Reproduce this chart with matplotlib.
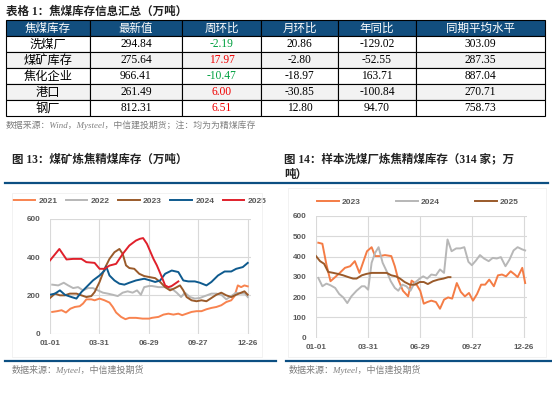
import matplotlib.pyplot as plt
from matplotlib.patches import Rectangle
from matplotlib.lines import Line2D

plt.rcParams['font.family'] = ['Liberation Serif', 'Noto Sans CJK SC']

# ---------------- table data ----------------
table_cols = ['焦煤库存', '最新值', '周环比', '月环比', '年同比', '同期平均水平']
table_rows = ['洗煤厂', '煤矿库存', '焦化企业', '港口', '钢厂']
latest = [294.84, 275.64, 966.41, 261.49, 812.31]
wow = [-2.19, 17.97, -10.47, 6.00, 6.51]
mom = [20.86, -2.80, -18.97, -30.85, 12.80]
yoy = [-129.02, -52.55, 163.71, -100.84, 94.70]
avg = [303.09, 287.35, 887.04, 270.71, 758.73]

# ---------------- chart 13: coal mine inventory (day of year, 万吨) ----------------
tick_days = [0, 89, 179, 269, 359]
tick_labels = ['01-01', '03-31', '06-29', '09-27', '12-26']

d2021 = [4, 13, 21, 29, 37, 45, 54, 60, 66, 75, 81, 90, 99, 108, 114, 120, 129, 137, 144, 156,
         168, 180, 185, 197, 206, 215, 224, 233, 240, 248, 257, 266, 275, 284, 293, 302, 311,
         320, 329, 335, 341, 347, 353, 359]
v2021 = [113, 117, 122, 110, 130, 139, 143, 157, 179, 179, 174, 183, 174, 162, 139, 110, 87, 75,
         82, 82, 78, 78, 82, 87, 99, 104, 99, 104, 96, 104, 113, 117, 117, 127, 134, 139, 148,
         165, 174, 196, 252, 243, 252, 247]

d2022 = [4, 15, 25, 33, 42, 51, 60, 69, 78, 87, 96, 105, 114, 123, 132, 141, 150, 158, 165, 171,
         180, 185, 197, 209, 221, 230, 238, 245, 254, 263, 272, 281, 293, 302, 311, 320, 329,
         338, 347, 354, 359]
v2022 = [256, 252, 266, 252, 238, 243, 226, 238, 238, 226, 214, 209, 203, 196, 214, 221, 214, 226,
         203, 243, 249, 249, 243, 243, 235, 214, 191, 214, 191, 183, 186, 196, 209, 209, 203,
         179, 196, 214, 209, 209, 191]

d2023 = [0, 9, 18, 27, 36, 48, 57, 66, 75, 81, 90, 99, 108, 117, 126, 132, 138, 144, 153, 162,
         171, 180, 191, 200, 209, 218, 227, 236, 242, 248, 257, 266, 275, 284, 293, 302, 311,
         320, 329, 338, 347, 353, 359]
v2023 = [186, 209, 200, 200, 209, 209, 200, 191, 196, 217, 270, 339, 391, 426, 443, 417, 357, 343,
         339, 313, 301, 296, 290, 270, 243, 226, 238, 252, 226, 191, 174, 169, 174, 169, 186,
         203, 214, 200, 191, 203, 214, 221, 203]

d2024 = [0, 9, 18, 27, 39, 48, 57, 66, 78, 90, 99, 102, 108, 117, 126, 135, 144, 156, 171, 182,
         191, 200, 209, 221, 233, 242, 251, 263, 272, 284, 293, 305, 317, 329, 338, 350, 359]
v2024 = [203, 209, 226, 203, 191, 183, 217, 243, 278, 304, 330, 351, 304, 278, 261, 256, 266, 278,
         287, 278, 270, 278, 313, 330, 322, 278, 273, 273, 266, 252, 270, 304, 325, 325, 339,
         348, 370]

d2025 = [0, 17, 30, 42, 57, 66, 81, 90, 99, 108, 120, 132, 144, 156, 163, 169, 176, 182, 188,
         194, 203, 209, 215, 221, 227, 233]
v2025 = [383, 443, 388, 391, 391, 374, 370, 339, 339, 356, 365, 417, 461, 487, 496, 500, 470, 430,
         390, 357, 296, 252, 243, 249, 261, 273]

# ---------------- chart 14: 314 washing plants ----------------
w2023_d = [4, 11, 18, 25, 33, 41, 50, 59, 67, 75, 82, 88, 96, 102, 110, 119, 130, 136, 142, 150,
           159, 165, 173, 180, 186, 192, 199, 207, 214, 221, 228, 235, 243, 250, 257, 264, 271,
           278, 285, 292, 299, 307, 314, 321, 328, 336, 343, 348, 356, 361]
w2023_v = [468, 463, 360, 278, 298, 319, 344, 352, 377, 319, 377, 426, 446, 402, 402, 407, 402,
           352, 286, 231, 203, 281, 264, 230, 167, 175, 182, 175, 142, 187, 198, 192, 269, 225,
           203, 220, 182, 215, 261, 261, 286, 253, 307, 311, 302, 327, 311, 298, 344, 269]

w2024_d = [4, 11, 18, 25, 33, 40, 47, 54, 61, 70, 79, 84, 90, 96, 102, 108, 115, 122, 129, 136,
           142, 149, 156, 163, 170, 179, 185, 192, 199, 207, 214, 221, 227, 234, 242, 249, 256,
           263, 269, 276, 283, 290, 298, 305, 312, 319, 327, 334, 341, 348, 356, 361]
w2024_v = [294, 253, 266, 258, 245, 215, 198, 170, 203, 231, 253, 253, 236, 369, 418, 446, 369,
           327, 278, 245, 231, 261, 253, 231, 269, 291, 302, 291, 311, 307, 336, 319, 484, 426,
           440, 440, 446, 374, 357, 380, 407, 390, 377, 393, 390, 397, 352, 385, 430, 446, 435,
           430]

w2025_d = [0, 7, 14, 21, 30, 38, 47, 56, 64, 70, 79, 87, 96, 104, 113, 122, 130, 138, 145, 153,
           162, 171, 179, 186, 193, 202, 211, 220, 228, 232]
w2025_v = [402, 377, 364, 324, 319, 314, 307, 298, 291, 291, 307, 314, 319, 319, 319, 319, 307,
           302, 291, 274, 261, 261, 274, 274, 264, 278, 286, 291, 298, 298]

W, H = 552, 393
fig = plt.figure(figsize=(W / 100, H / 100), dpi=100)

HEAD_BLUE = '#124E7E'
LINE_BLUE = '#0C4F82'
TICK_GRAY = '#595959'
GRID = '#D9D9D9'

def fx(px):
    return px / W

def fy(py):
    return 1 - py / H

# ---------------- table ----------------
fig.text(fx(6), fy(12), '表格 1：焦煤库存信息汇总（万吨）', fontsize=8.3, fontweight='bold',
         va='center', ha='left', color='#222222')

cell_text = []
for i in range(len(table_rows)):
    cell_text.append([table_rows[i], f'{latest[i]:.2f}', f'{wow[i]:.2f}', f'{mom[i]:.2f}',
                      f'{yoy[i]:.2f}', f'{avg[i]:.2f}'])

tax = fig.add_axes([fx(6), fy(116), fx(539), 95.5 / H])
tax.axis('off')
col_w = [84, 92, 79, 77, 78, 129]
tbl = tax.table(cellText=cell_text, colLabels=table_cols, colWidths=[c / sum(col_w) for c in col_w],
                cellLoc='center', bbox=[0, 0, 1, 1])
tbl.auto_set_font_size(False)
for (r, c), cell in tbl.get_celld().items():
    cell.set_linewidth(0.8)
    cell.set_edgecolor('black')
    txt = cell.get_text()
    txt.set_fontsize(8.3)
    if r == 0:
        cell.set_facecolor(HEAD_BLUE)
        txt.set_color('white')
        txt.set_fontfamily(['Noto Sans CJK SC'])
    else:
        cell.set_facecolor('#F2F2F2' if r % 2 == 0 else 'white')
        if c == 0:
            txt.set_fontfamily(['Noto Sans CJK SC'])
            txt.set_fontsize(8.8)
        if c == 2:
            txt.set_color('#00A040' if wow[r - 1] < 0 else '#F00000')

fig.text(fx(6), fy(125), '数据来源：Wind，Mysteel，中信建投期货；注：均为为精煤库存', fontsize=6.4,
         style='italic', color='#7F7F7F', va='center', ha='left')

# ---------------- titles and rules ----------------
fig.text(fx(12), fy(160), '图 13：煤矿炼焦精煤库存（万吨）', fontsize=8.3, fontweight='bold',
         va='center', ha='left', color='#222222')
fig.text(fx(284), fy(160), '图 14：样本洗煤厂炼焦精煤库存（314 家；万', fontsize=8.3,
         fontweight='bold', va='center', ha='left', color='#222222')
fig.text(fx(284), fy(175), '吨）', fontsize=8.3, fontweight='bold', va='center', ha='left',
         color='#222222')

fig.add_artist(Line2D([fx(5), fx(548)], [fy(183), fy(183)], color=LINE_BLUE, lw=1.6))
fig.add_artist(Line2D([fx(5), fx(276)], [fy(361), fy(361)], color=LINE_BLUE, lw=1.6))
fig.add_artist(Line2D([fx(286), fx(552)], [fy(361), fy(361)], color=LINE_BLUE, lw=1.6))

fig.add_artist(Rectangle((fx(12), fy(357)), fx(250), 164 / H, facecolor='none',
                         edgecolor='#F0F0F0', lw=0.6))
fig.add_artist(Rectangle((fx(288), fy(357)), fx(258), 169 / H, facecolor='none',
                         edgecolor='#F0F0F0', lw=0.6))

fig.text(fx(12), fy(370), '数据来源：Myteel，中信建投期货', fontsize=6.5, style='italic',
         color='#7F7F7F', va='center', ha='left')
fig.text(fx(289), fy(370), '数据来源：Myteel，中信建投期货', fontsize=6.5, style='italic',
         color='#7F7F7F', va='center', ha='left')

def style_axes(ax, yticks):
    ax.set_xlim(0, 364)
    ax.set_ylim(0, 600)
    ax.set_xticks(tick_days)
    ax.set_xticklabels(tick_labels)
    ax.set_yticks(yticks)
    ax.grid(True, color=GRID, lw=0.8)
    ax.set_axisbelow(True)
    for s in ax.spines.values():
        s.set_visible(False)
    ax.tick_params(length=0, labelsize=5.8, labelcolor=TICK_GRAY)
    ax.tick_params(axis='y', pad=7)
    ax.tick_params(axis='x', pad=5)
    for lab in ax.get_xticklabels() + ax.get_yticklabels():
        lab.set_fontfamily(['Liberation Sans'])
        lab.set_fontweight('bold')

# ---------------- chart 13 ----------------
ax1 = fig.add_axes([fx(50), fy(333.5), fx(200.5), 114.5 / H])
series1 = [(d2021, v2021, '2021', '#F8834F'), (d2022, v2022, '2022', '#B7B7B7'),
           (d2023, v2023, '2023', '#9A5A2A'), (d2024, v2024, '2024', '#0E5A8E'),
           (d2025, v2025, '2025', '#E0202B')]
for d, v, lab, col in series1:
    ax1.plot(d, v, color=col, lw=1.4, label=lab)
style_axes(ax1, [0, 200, 400, 600])
leg1 = ax1.legend(loc='center', bbox_to_anchor=(fx(140), fy(201)), bbox_transform=fig.transFigure,
                  ncol=5, frameon=False, handlelength=2.6, handletextpad=0.4, columnspacing=1.0,
                  prop={'family': 'Liberation Sans', 'size': 6, 'weight': 'bold'})
for t in leg1.get_texts():
    t.set_color(TICK_GRAY)

# ---------------- chart 14 ----------------
ax2 = fig.add_axes([fx(316), fy(337.5), fx(210.9), 121.5 / H])
series2 = [(w2023_d, w2023_v, '2023', '#F47C45'), (w2024_d, w2024_v, '2024', '#B7B7B7'),
           (w2025_d, w2025_v, '2025', '#9A5A2A')]
for d, v, lab, col in series2:
    ax2.plot(d, v, color=col, lw=1.4, label=lab)
style_axes(ax2, [0, 100, 200, 300, 400, 500, 600])
leg2 = ax2.legend(loc='center', bbox_to_anchor=(fx(418), fy(202)), bbox_transform=fig.transFigure,
                  ncol=3, frameon=False, handlelength=2.6, handletextpad=0.4, columnspacing=4.2,
                  prop={'family': 'Liberation Sans', 'size': 6, 'weight': 'bold'})
for t in leg2.get_texts():
    t.set_color(TICK_GRAY)

fig.savefig('out.png', dpi=100)
